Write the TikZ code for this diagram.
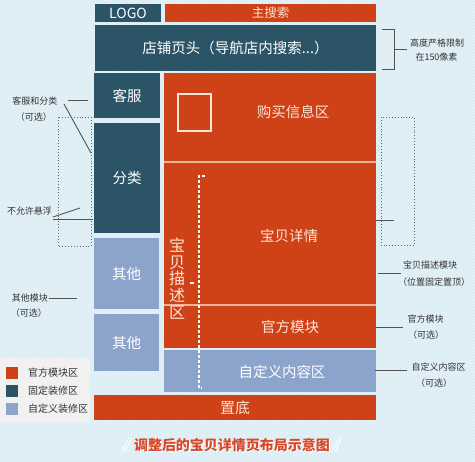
\documentclass[tikz,border=0pt]{standalone}
\usepackage{fontspec}
\setmainfont{Noto Sans CJK SC}
\usetikzlibrary{patterns}
\definecolor{bg}{HTML}{D6EAF3}
\definecolor{orng}{HTML}{CF4116}
\definecolor{tealA}{HTML}{2C5467}
\definecolor{lblue}{HTML}{8CA4CB}
\definecolor{peach}{HTML}{FBE5D6}
\definecolor{anno}{HTML}{333333}
\definecolor{legbg}{HTML}{F1F1EF}
\definecolor{capred}{HTML}{D8482A}
\definecolor{sepc}{HTML}{F2B59A}
\begin{document}
\begin{tikzpicture}[x=1pt,y=-1pt,
  blk/.style={inner sep=0pt, outer sep=0pt, anchor=center},
  sz/.style 2 args={minimum width=#1pt, minimum height=#2pt},
  ob/.style={blk, fill=orng, text=peach},
  tb/.style={blk, fill=tealA, text=white},
  lb/.style={blk, fill=lblue, text=white},
  big/.style={font=\fontsize{14.5}{16}\selectfont},
  intext/.style={inner sep=0pt, text=peach, big},
  note/.style={font=\fontsize{9}{11}\selectfont, text=anno, inner sep=0pt},
  legtext/.style={font=\fontsize{10}{12}\selectfont, text=anno, inner sep=0pt, anchor=west},
  aline/.style={draw=anno!85, line width=0.9pt},
  dotbox/.style={draw=gray!80!black, dotted, line width=0.9pt}]
\useasboundingbox (0,0) rectangle (475,462);
\fill[bg] (0,0) rectangle (475,462);
\fill[pattern=crosshatch, pattern color=white!45!bg] (0,0) rectangle (475,462);

% top rows
\node[tb, sz={66}{18}, font=\fontsize{14}{16}\selectfont] (logo) at (128,13) {LOGO};
\node[ob, sz={211}{18}, font=\fontsize{12.5}{14}\selectfont] (search) at (270.5,13) {主搜索};
\node[tb, sz={281}{46}, big] (header) at (235.5,48) {店铺页头（导航店内搜索...）};

% left column
\node[tb, sz={66}{45}, big] (kefu) at (127,95.5) {客服};
\node[tb, sz={66}{110}, big] (fenlei) at (127,178) {分类};
\node[lb, sz={65}{71}, big] (qita1) at (126.5,273.5) {其他};
\node[lb, sz={65}{57}, big] (qita2) at (126.5,342.5) {其他};

% right column
\node[ob, sz={212}{89}] (buy) at (270,117.5) {};
\node[intext] (buyt) at (293,112) {购买信息区};
\node[ob, sz={212}{142}] (detail) at (270,234) {};
\node[intext] (detailt) at (289,236) {宝贝详情};
\node[ob, sz={212}{42}] (official) at (270,327) {};
\node[intext] (officialt) at (290,327) {官方模块};
\node[lb, sz={212}{42}] (custom) at (270,371) {};
\node[intext, text=white] (customt) at (282,372) {自定义内容区};
\node[ob, sz={282}{25}, font=\fontsize{15}{16}\selectfont] (bottom) at (235,407.5) {置底};

\draw[sepc, line width=1.2pt] (buy.south west) -- (buy.south east);
\draw[sepc, line width=1.2pt] (detail.south west) -- (detail.south east);

% square
\draw[peach, line width=1.5pt] (178,94) rectangle (211,131);

% dashed description line
\draw[white, line width=1.3pt, dash pattern=on 3pt off 2pt] (205,176) -- (199,176) -- (199,388) -- (202,388);
\draw[white, line width=1.3pt] (190,283) -- (194,283);
\node[inner sep=0pt, text=peach, font=\fontsize{16}{16.6}\selectfont, align=center] (desc) at (177,278.5) {宝\\贝\\描\\述\\区};

% legend
\fill[legbg] (0,358) rectangle (90,422);
\node[blk, fill=orng, sz={12}{12}] (lg1) at (12,373) {};
\node[blk, fill=tealA, sz={12}{12}] (lg2) at (12,391) {};
\node[blk, fill=lblue, sz={12}{12}] (lg3) at (12,409) {};
\node[legtext] (lt1) at (28,373) {官方模块区};
\node[legtext] (lt2) at (28,391) {固定装修区};
\node[legtext] (lt3) at (28,409) {自定义装修区};

% caption
\foreach \i in {0,3}{
  \draw[white, line width=0.9pt] (122+\i,452) -- (129+\i,437);
  \draw[white, line width=0.9pt] (332+\i,452) -- (339+\i,437);
}
\node[font=\bfseries\fontsize{14}{16}\selectfont, text=white, inner sep=0pt] (capw) at (233,446) {调整后的宝贝详情页布局示意图};
\node[font=\bfseries\fontsize{14}{16}\selectfont, text=capred, inner sep=0pt] (cap) at (232,445) {调整后的宝贝详情页布局示意图};

% left annotations
\node[note] (n1) at (35,101) {客服和分类};
\node[note] (n1b) at (34,117) {（可选）};
\draw[aline] (68,100) -- (88,100);
\draw[aline] (64,104) -- (91,153);
\draw[dotbox] (58,117) rectangle (91,246);
\node[note] (n2) at (29.5,211) {不允许悬浮};
\draw[aline] (53,217) -- (80,208);
\draw[aline] (53,219) -- (93,219);
\node[note] (n3) at (30,298) {其他模块};
\draw[aline] (49,298) -- (77,298);
\node[note] (n3b) at (29,313) {（可选）};

% right annotations
\draw[aline] (382,29) -- (394,29) -- (394,69) -- (382,69);
\draw[aline] (394,49) -- (407,49);
\node[note] (r1) at (437,43) {高度严格限制};
\node[note] (r1b) at (436.5,57) {在150像素};
\draw[dotbox] (381,117) rectangle (414,245);
\draw[aline] (375,220) -- (394,220);
\node[note] (r2) at (430,265) {宝贝描述模块};
\node[note] (r2b) at (434,282) {（位置固定置顶）};
\draw[aline] (378,273) -- (401,273);
\node[note] (r3) at (425.5,319) {官方模块};
\node[note] (r3b) at (426,335) {（可选）};
\draw[aline] (375,327) -- (403,327);
\node[note] (r4) at (438.5,367) {自定义内容区};
\node[note] (r4b) at (434,383) {（可选）};
\draw[aline] (375,370) -- (407,370);
\end{tikzpicture}
\end{document}
